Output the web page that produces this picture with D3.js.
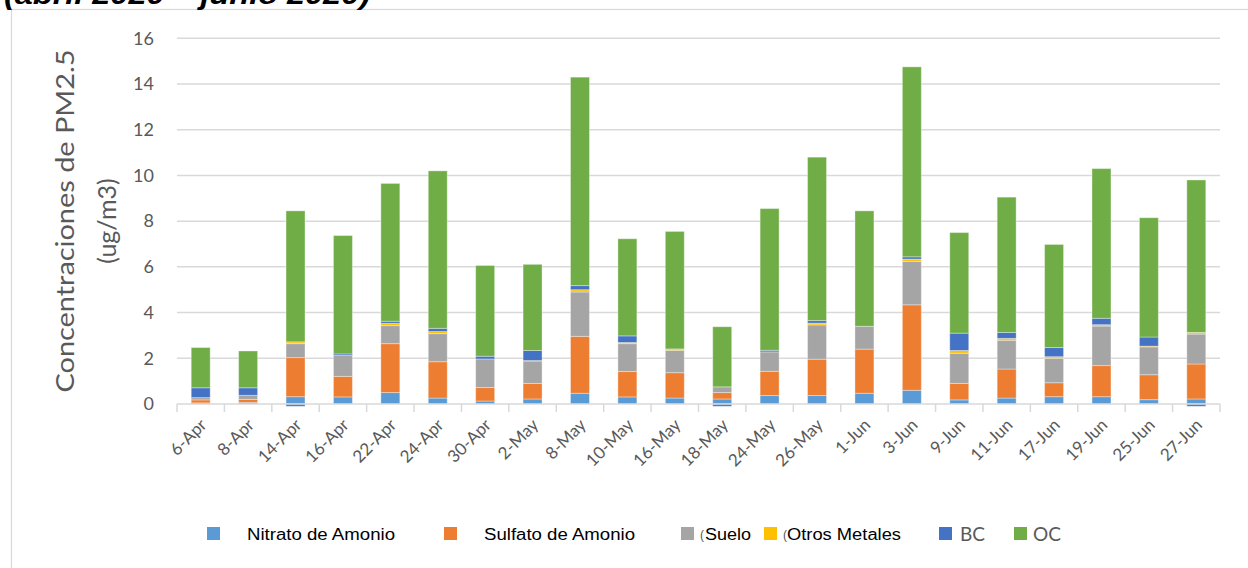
<!DOCTYPE html>
<html>
<head>
<meta charset="utf-8">
<script src="https://d3js.org/d3.v7.min.js"></script>
<style>
  body { margin: 0; padding: 0; background: #fff; overflow: hidden; }
  text { font-family: Lato, "Open Sans", sans-serif; }
</style>
</head>
<body>
<script>
// fechas de muestreo
var fechas = ["6-Apr", "8-Apr", "14-Apr", "16-Apr", "22-Apr", "24-Apr", "30-Apr", "2-May",
  "8-May", "10-May", "16-May", "18-May", "24-May", "26-May", "1-Jun", "3-Jun",
  "9-Jun", "11-Jun", "17-Jun", "19-Jun", "25-Jun", "27-Jun"];

// componentes (ug/m3)
var nitrato  = [0.05, 0.07, 0.32, 0.31, 0.50, 0.26, 0.13, 0.22, 0.47, 0.31, 0.26, 0.22, 0.37, 0.37, 0.47, 0.60, 0.18, 0.26, 0.32, 0.32, 0.19, 0.22];
var sulfato  = [0.13, 0.13, 1.71, 0.90, 2.14, 1.59, 0.59, 0.68, 2.49, 1.11, 1.11, 0.28, 1.06, 1.59, 1.93, 3.74, 0.72, 1.27, 0.61, 1.36, 1.09, 1.53];
var suelo    = [0.10, 0.18, 0.61, 0.91, 0.79, 1.23, 1.25, 0.98, 1.94, 1.22, 0.98, 0.25, 0.85, 1.50, 1.00, 1.90, 1.32, 1.26, 1.07, 1.73, 1.22, 1.31];
var metales  = [0.00, 0.00, 0.08, 0.00, 0.10, 0.09, 0.00, 0.02, 0.10, 0.05, 0.06, 0.00, 0.00, 0.08, 0.00, 0.10, 0.12, 0.08, 0.07, 0.06, 0.03, 0.07];
var bc       = [0.43, 0.33, -0.10, 0.07, 0.09, 0.14, 0.12, 0.44, 0.18, 0.29, 0.00, -0.10, 0.07, 0.11, 0.00, 0.10, 0.76, 0.26, 0.40, 0.28, 0.40, -0.10];
var oc       = [1.76, 1.61, 5.73, 5.18, 6.03, 6.89, 3.97, 3.77, 9.12, 4.25, 5.14, 2.63, 6.20, 7.15, 5.05, 8.31, 4.40, 5.92, 4.51, 6.55, 5.22, 6.67];

var series = ["Nitrato de Amonio", "Sulfato de Amonio", "Suelo", "Otros Metales", "BC", "OC"];
var colores = ["#5b9bd5", "#ed7d31", "#a5a5a5", "#ffc000", "#4472c4", "#70ad47"];
var yTicks = [0, 2, 4, 6, 8, 10, 12, 14, 16];

var W = 1248, H = 568;
var svg = d3.select("body").append("svg").attr("width", W).attr("height", H);

// marco del grafico
svg.append("rect")
  .attr("x", 11.5).attr("y", 9.5).attr("width", 1400).attr("height", 800)
  .attr("fill", "none").attr("stroke", "#d9d9d9").attr("stroke-width", 1.2);

// titulo (cortado arriba, como en el original)
svg.append("text")
  .attr("x", 4).attr("y", 4)
  .attr("textLength", 366).attr("lengthAdjust", "spacingAndGlyphs")
  .style("font-family", "'Liberation Sans', Arial, sans-serif")
  .style("font-weight", "bold").style("font-style", "italic")
  .style("font-size", "28px").attr("fill", "#000")
  .text("(abril 2020 – junio 2020)");

var filas = fechas.map(function(f, i) {
  return { fecha: f, 0: nitrato[i], 1: sulfato[i], 2: suelo[i], 3: metales[i], 4: bc[i], 5: oc[i] };
});

var x = d3.scaleBand().domain(fechas).range([177, 1220]).paddingInner(0.6).paddingOuter(0.3);
var y = d3.scaleLinear().domain([0, 16]).range([404, 38.3]);

// rejilla
svg.append("g").selectAll("line").data(yTicks.slice(1)).enter().append("line")
  .attr("x1", 177).attr("x2", 1220)
  .attr("y1", function(d) { return y(d); }).attr("y2", function(d) { return y(d); })
  .attr("stroke", "#d9d9d9").attr("stroke-width", 1.5);

// etiquetas eje y
svg.append("g").selectAll("text").data(yTicks).enter().append("text")
  .attr("x", 154).attr("y", function(d) { return y(d); }).attr("dy", "0.35em")
  .attr("text-anchor", "end").attr("fill", "#595959").style("font-size", "18px")
  .text(function(d) { return d; });

// titulo eje y
var yt = svg.append("g").attr("transform", "translate(0,221) rotate(-90)");
yt.append("text").attr("x", 0).attr("y", 74).attr("text-anchor", "middle")
  .attr("textLength", 343).attr("lengthAdjust", "spacingAndGlyphs")
  .attr("fill", "#595959").style("font-size", "25px").text("Concentraciones de PM2.5");
yt.append("text").attr("x", 0).attr("y", 116).attr("text-anchor", "middle")
  .attr("fill", "#595959").style("font-size", "25px").text("(ug/m3)");

// barras apiladas
var stack = d3.stack().keys(d3.range(6)).offset(d3.stackOffsetDiverging);
var capas = stack(filas);

svg.append("g").selectAll("g").data(capas).enter().append("g")
  .attr("fill", function(d, i) { return colores[i]; })
  .selectAll("rect").data(function(d) { return d; }).enter().append("rect")
  .filter(function(d) { return d[1] !== d[0]; })
  .attr("x", function(d) { return x(d.data.fecha); })
  .attr("width", x.bandwidth())
  .attr("y", function(d) { return y(Math.max(d[0], d[1])); })
  .attr("height", function(d) { return Math.abs(y(d[0]) - y(d[1])); })
  .attr("stroke", "#ffffff").attr("stroke-opacity", 0.35).attr("stroke-width", 1);

// eje x
svg.append("line").attr("x1", 177).attr("x2", 1220).attr("y1", y(0)).attr("y2", y(0))
  .attr("stroke", "#d9d9d9").attr("stroke-width", 1.5);
var bordes = fechas.map(function(f) { return x(f) - x.step() * x.paddingInner() / 2; });
bordes.push(1220);
svg.append("g").selectAll("line").data(bordes).enter().append("line")
  .attr("x1", function(d) { return d; }).attr("x2", function(d) { return d; })
  .attr("y1", y(0)).attr("y2", y(0) + 8)
  .attr("stroke", "#d9d9d9").attr("stroke-width", 1.5);

svg.append("g").selectAll("text").data(fechas).enter().append("text")
  .attr("transform", function(d) {
    return "translate(" + (x(d) + x.bandwidth() / 2 + 7) + "," + 426 + ") rotate(-45)";
  })
  .attr("text-anchor", "end").attr("fill", "#595959").style("font-size", "17px")
  .text(function(d) { return d; });

// leyenda
var leyenda = [
  { sx: 207, tx: 247, tl: 148, f: "arial" },
  { sx: 444, tx: 484, tl: 151, f: "arial" },
  { sx: 681, tx: 705, tl: 46, f: "arial", pre: 700 },
  { sx: 764, tx: 787, tl: 114, f: "arial", pre: 783 },
  { sx: 939, tx: 960, tl: 0, f: "cal" },
  { sx: 1014, tx: 1033, tl: 0, f: "cal" }
];
var lg = svg.append("g");
leyenda.forEach(function(l, i) {
  lg.append("rect").attr("x", l.sx).attr("y", 527).attr("width", 13).attr("height", 13)
    .attr("fill", colores[i]);
  if (l.pre) {
    lg.append("text").attr("x", l.pre).attr("y", 539)
      .style("font-family", "'Liberation Sans Narrow', 'Liberation Sans', sans-serif")
      .style("font-size", "12px").attr("fill", "#555").text("(");
  }
  var t = lg.append("text").attr("x", l.tx).attr("y", l.f === "arial" ? 540 : 540.5).text(series[i]);
  if (l.f === "arial") {
    t.style("font-family", "'Liberation Sans', Arial, sans-serif").style("font-size", "16px")
      .attr("fill", "#000").attr("textLength", l.tl).attr("lengthAdjust", "spacingAndGlyphs");
  } else {
    t.style("font-size", "19px").attr("fill", "#595959");
  }
});
</script>
</body>
</html>
